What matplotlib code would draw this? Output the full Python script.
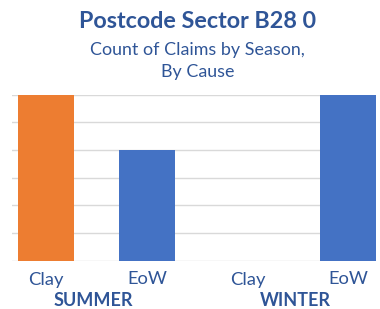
import matplotlib
matplotlib.use('Agg')
import matplotlib.pyplot as plt
import matplotlib.transforms as mtransforms

# --- data ---
causes = ['Clay', 'EoW', 'Clay', 'EoW']
seasons = ['SUMMER', 'WINTER']
claims = [6, 4, 0, 6]
bar_colors = ['#ED7D31', '#4472C4', '#ED7D31', '#4472C4']

text_blue = '#2F5597'
plt.rcParams['font.family'] = ['Lato', 'DejaVu Sans']

fig = plt.figure(figsize=(3.8, 3.09), dpi=100)
ax = fig.add_axes([12 / 380, 1 - 260.7 / 309, 364 / 380, 166 / 309])

x = list(range(len(causes)))
ax.bar(x, claims, width=0.555, color=bar_colors, zorder=2)

ax.set_xlim(-0.34, 3.275)
ax.set_ylim(0, 6)
ax.set_yticks(range(0, 7))
ax.yaxis.grid(True, color='#D9D9D9', linewidth=1, zorder=0)
ax.set_yticklabels([])
ax.tick_params(length=0)
ax.set_xticks([])
for s in ax.spines.values():
    s.set_visible(False)

# category and season labels under the axis
tr = mtransforms.blended_transform_factory(ax.transData, fig.transFigure)
for i, c in enumerate(causes):
    ax.text(i, 1 - 284.5 / 309, c, transform=tr, ha='center', va='baseline',
            fontsize=13.2, color=text_blue)
for j, s in enumerate(seasons):
    ax.text(2 * j + 0.47, 1 - 306.5 / 309, s, transform=tr, ha='center',
            va='baseline', fontsize=13, fontweight='bold', color=text_blue)

# titles
fig.text(0.52, 1 - 27.5 / 309, 'Postcode Sector B28 0', ha='center',
         va='baseline', fontsize=16.8, fontweight='bold', color=text_blue)
fig.text(0.52, 1 - 55 / 309, 'Count of Claims by Season,', ha='center',
         va='baseline', fontsize=12.9, color=text_blue)
fig.text(0.52, 1 - 77.3 / 309, 'By Cause', ha='center',
         va='baseline', fontsize=12.9, color=text_blue)

fig.savefig('out.png', dpi=100)
